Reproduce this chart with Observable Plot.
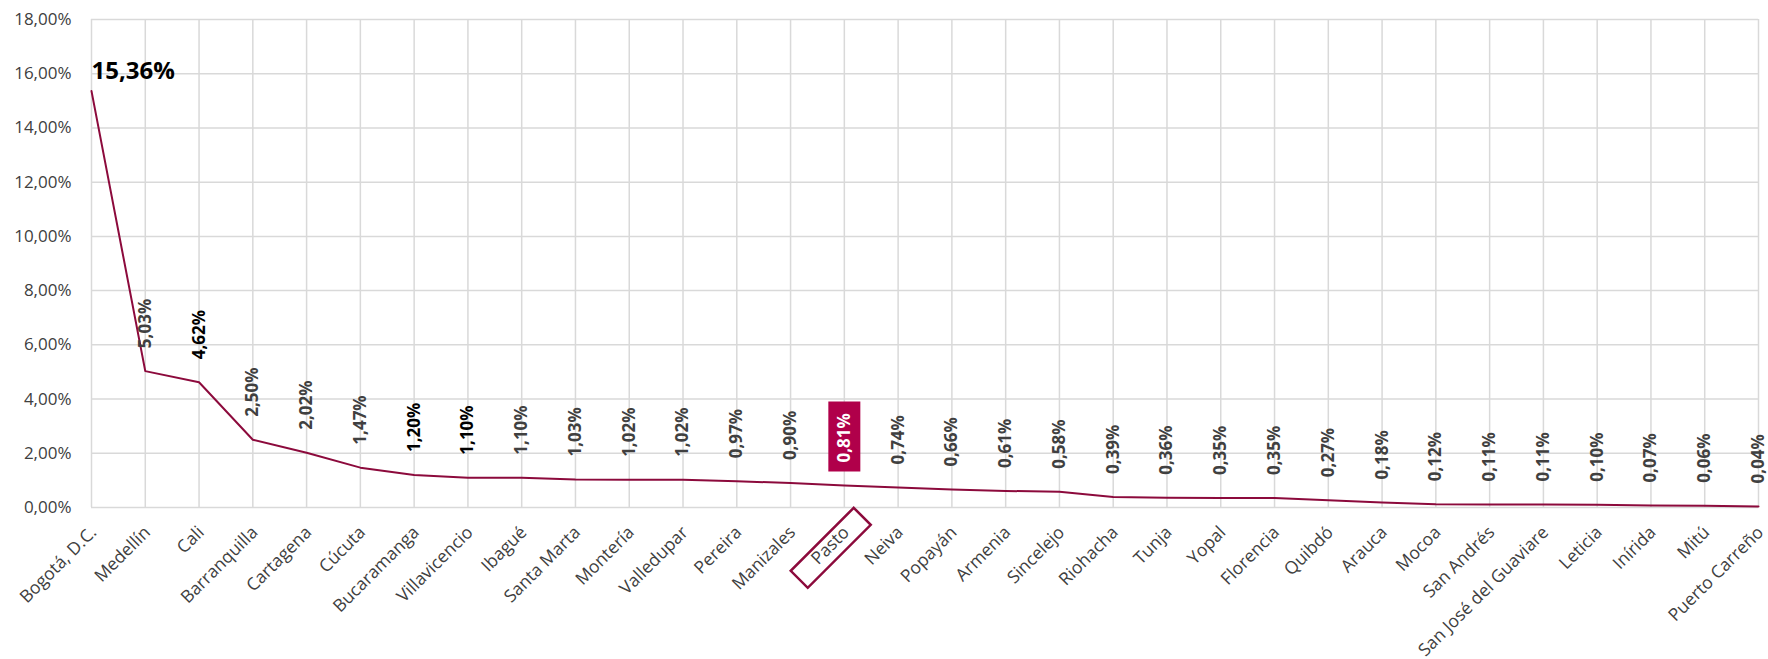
<!DOCTYPE html>
<html><head><meta charset="utf-8">
<script src="https://cdn.jsdelivr.net/npm/d3@7"></script>
<script src="https://cdn.jsdelivr.net/npm/@observablehq/plot@0.6"></script>
<style>body{margin:0;background:#fff;} svg{display:block}</style>
</head><body><div id="chart"></div>
<script>
const cities = ["Bogotá, D.C.","Medellín","Cali","Barranquilla","Cartagena","Cúcuta","Bucaramanga","Villavicencio","Ibagué","Santa Marta","Montería","Valledupar","Pereira","Manizales","Pasto","Neiva","Popayán","Armenia","Sincelejo","Riohacha","Tunja","Yopal","Florencia","Quibdó","Arauca","Mocoa","San Andrés","San José del Guaviare","Leticia","Inírida","Mitú","Puerto Carreño"];
const values = [15.36,5.03,4.62,2.50,2.02,1.47,1.20,1.10,1.10,1.03,1.02,1.02,0.97,0.90,0.81,0.74,0.66,0.61,0.58,0.39,0.36,0.35,0.35,0.27,0.18,0.12,0.11,0.11,0.10,0.07,0.06,0.04];
const yTicks = [0,2,4,6,8,10,12,14,16,18];
const blackLabels = ["Cali","Bucaramanga","Villavicencio"];
const highlight = "Pasto";

const data = cities.map((c,i)=>({city:c, value:values[i]}));
const fmt = v => v.toFixed(2).replace(".", ",") + "%";
const first = data.slice(0,1);
const rest = data.slice(1).filter(d => d.city !== highlight);
const hl = data.filter(d => d.city === highlight);

const boxSymbol = {draw(ctx){ ctx.rect(-16,-35,32,70); }};
const outlineSymbol = {draw(ctx){
  ctx.moveTo(23,-40); ctx.lineTo(40,-23); ctx.lineTo(-23,40); ctx.lineTo(-40,23); ctx.closePath();
}};

const plot = Plot.plot({
  width:1768, height:659,
  marginLeft:91, marginRight:10, marginTop:19, marginBottom:152,
  style:{fontFamily:"'Open Sans', sans-serif", fontSize:"17px", color:"#404040", background:"#fff"},
  x:{type:"point", domain:cities, padding:0, round:false, axis:null},
  y:{domain:[0,18], ticks:yTicks, tickSize:0, tickPadding:20, label:null,
     tickFormat: d => d.toFixed(2).replace(".", ",") + "%"},
  marks:[
    Plot.ruleY(yTicks, {stroke:"#d9d9d9", strokeWidth:1.5}),
    Plot.ruleX(cities, {x:d=>d, y1:0, y2:18, stroke:"#d9d9d9", strokeWidth:1.5}),
    Plot.line(data, {x:"city", y:"value", stroke:"#8c0a3c", strokeWidth:2}),
    Plot.text(first, {x:"city", y:"value", text:d=>fmt(d.value), textAnchor:"start", lineAnchor:"bottom", dy:-12, fontSize:24, fontWeight:"bold", fill:"#000"}),
    Plot.text(rest.filter(d=>!blackLabels.includes(d.city)), {x:"city", y:"value", text:d=>fmt(d.value), rotate:-90, textAnchor:"start", lineAnchor:"middle", dy:-23, fontWeight:"bold", fontSize:17, fill:"#404040"}),
    Plot.text(rest.filter(d=>blackLabels.includes(d.city)), {x:"city", y:"value", text:d=>fmt(d.value), rotate:-90, textAnchor:"start", lineAnchor:"middle", dy:-23, fontWeight:"bold", fontSize:17, fill:"#000"}),
    Plot.dot(hl, {x:"city", y:"value", symbol:boxSymbol, dy:-49, fill:"#b0004a", stroke:"none"}),
    Plot.text(hl, {x:"city", y:"value", text:d=>fmt(d.value), rotate:-90, textAnchor:"start", lineAnchor:"middle", dy:-23, fontWeight:"bold", fontSize:17, fill:"#fff"}),
    Plot.text(data, {x:"city", y:()=>0, text:"city", rotate:-45, textAnchor:"end", lineAnchor:"middle", dx:2, dy:22, fontSize:17.5, fill:"#404040"}),
    Plot.dot(hl, {x:"city", y:()=>0, symbol:outlineSymbol, dx:-13.6, dy:40.3, fill:"none", stroke:"#8c0a3c", strokeWidth:2.5})
  ]
});
document.getElementById("chart").appendChild(plot);
</script>
</body></html>
